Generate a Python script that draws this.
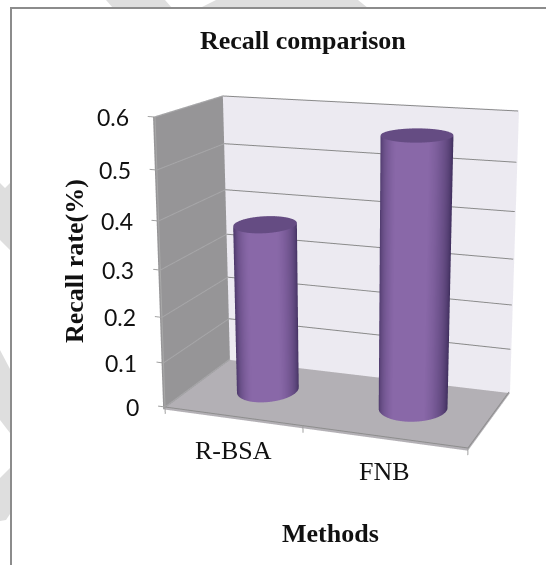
import numpy as np, plotly.graph_objects as go

categories = ["R-BSA", "FNB"]
recall_rate = [0.37, 0.57]
tick_values = [0, 0.1, 0.2, 0.3, 0.4, 0.5, 0.6]
tick_labels = ["0", "0.1", "0.2", "0.3", "0.4", "0.5", "0.6"]
title_text = "Recall comparison"
x_title = "Methods"
y_title = "Recall rate(%)"

W, H = 546, 565
X_MAX = len(categories)
Z_MAX = tick_values[-1]
X_RANGE, Y_RANGE, Z_RANGE = [-0.3, 2.3], [-0.3, 1.3], [-0.1, 0.7]
ASPECT = dict(x=1.2308, y=0.6896, z=1.1781)
EYE = dict(x=0.6385, y=-1.8809, z=0.4885)
CENTER = dict(x=-0.1484, y=-0.1249, z=-0.0481)
UP = dict(x=-0.0929, y=0.2527, z=0.9631)
CYLINDER_SHIFT = 0.03

# Where the eight corners of the chart box sit in the window. The reference's
# projection is flatter than the scene camera allows, so the box gets a small
# per-corner correction (the nearest point on each corner's sight line).
BOX_CORNER_PIXELS = {
    (0, 0, 0): (165, 407), (1, 0, 0): (468, 448), (0, 1, 0): (230, 359), (1, 1, 0): (509, 392),
    (0, 0, 1): (155, 117), (1, 0, 1): (478, 140), (0, 1, 1): (223, 96), (1, 1, 1): (518, 111),
}

_mid = np.array([sum(X_RANGE), sum(Y_RANGE), sum(Z_RANGE)]) / 2
_span = np.array([X_RANGE[1] - X_RANGE[0], Y_RANGE[1] - Y_RANGE[0], Z_RANGE[1] - Z_RANGE[0]])
_asp = np.array([ASPECT["x"], ASPECT["y"], ASPECT["z"]])
_eye = np.array([EYE["x"], EYE["y"], EYE["z"]])
_fw = np.array([CENTER["x"], CENTER["y"], CENTER["z"]]) - _eye
_fw /= np.linalg.norm(_fw)
_r = np.cross(_fw, [UP["x"], UP["y"], UP["z"]]); _r /= np.linalg.norm(_r)
_u = np.cross(_r, _fw)
_f = 1 / np.tan(np.pi / 8)

def corner_offset(px, py, p):
    a = (2 * px / W - 1) * W / H / _f
    b = (1 - 2 * py / H) / _f
    ray = _fw + a * _r + b * _u
    q = (np.array(p, float) - _mid) / _span * _asp
    t = (q - _eye) @ ray / (ray @ ray)
    return (_eye + t * ray - q) / _asp * _span

_off = {k: corner_offset(*v, (k[0] * X_MAX, k[1], k[2] * Z_MAX)) for k, v in BOX_CORNER_PIXELS.items()}

def warp(x, y, z):
    x, y, z = np.asarray(x, float), np.asarray(y, float), np.asarray(z, float)
    u, v, w = x / X_MAX, y, z / Z_MAX
    dx, dy, dz = 0 * x, 0 * x, 0 * x
    for (a, b, c), o in _off.items():
        k = (u if a else 1 - u) * (v if b else 1 - v) * (w if c else 1 - w)
        dx = dx + k * o[0]
        dy = dy + k * o[1]
        dz = dz + k * o[2]
    return x + dx, y + dy, z + dz

FLAT = dict(ambient=1, diffuse=0, specular=0, fresnel=0, roughness=1)

def quad(p, color):
    p = np.array(p, float)
    x, y, z = warp(p[:, 0], p[:, 1], p[:, 2])
    return go.Mesh3d(x=x, y=y, z=z, i=[0, 0], j=[1, 2], k=[2, 3], color=color,
                     flatshading=True, hoverinfo="skip", lighting=FLAT)

def polyline(pts, color, width=2):
    p = np.array(pts, float)
    x, y, z = warp(p[:, 0], p[:, 1], p[:, 2])
    return go.Scatter3d(x=x, y=y, z=z, mode="lines", hoverinfo="skip",
                        line=dict(color=color, width=width), showlegend=False)

def lerp(a, b, t):
    return tuple(a[i] + (b[i] - a[i]) * t for i in range(3))

def cylinder(cx, cy, h, rx=0.205, ry=0.24, n=96):
    sx, sy = _asp[0] / _span[0], _asp[1] / _span[1]
    ang = np.linspace(0, 2 * np.pi, n, endpoint=False)
    xs = cx + rx * np.cos(ang)
    ys = cy + ry * np.sin(ang)
    view = np.array([EYE["x"] - sx * (cx - 1), EYE["y"] - sy * (cy - 0.5)])
    view /= np.linalg.norm(view)
    nx = np.cos(ang) / (rx * sx)
    ny = np.sin(ang) / (ry * sy)
    facing = np.clip((nx * view[0] + ny * view[1]) / np.hypot(nx, ny), 0, 1)
    dark, light = (60, 44, 90), (137, 104, 168)
    cols = []
    for t in facing:
        r, g, b = lerp(dark, light, min(1, t ** 1.1 * 1.15))
        cols.append(f"rgb({int(r)},{int(g)},{int(b)})")
    I, J, K = [], [], []
    for a in range(n):
        b = (a + 1) % n
        I += [a, a]; J += [b, b + n]; K += [b + n, a + n]
    x0, y0, z0 = warp(xs, ys, np.zeros(n))
    x1, y1, z1 = warp(xs, ys, np.full(n, h))
    side = go.Mesh3d(x=np.r_[x0, x1], y=np.r_[y0, y1], z=np.r_[z0, z1],
                     i=I, j=J, k=K, vertexcolor=cols + cols, hoverinfo="skip", lighting=FLAT)
    xc, yc, zc = warp([cx], [cy], [h])
    top = go.Mesh3d(x=np.r_[xc, x1], y=np.r_[yc, y1], z=np.r_[zc, z1],
                    i=[0] * n, j=[a + 1 for a in range(n)], k=[(a + 1) % n + 1 for a in range(n)],
                    color="#654C83", flatshading=True, hoverinfo="skip", lighting=FLAT)
    return [side, top]

traces = [
    quad([(-0.015, 1.03, -0.006), (X_MAX, 1.03, -0.006), (X_MAX, 1.03, Z_MAX), (-0.015, 1.03, Z_MAX)], "#ECEAF1"),
    quad([(-0.015, 0, -0.006), (-0.015, 1.03, -0.006), (-0.015, 1.03, Z_MAX), (-0.015, 0, Z_MAX)], "#969597"),
    quad([(-0.015, 0, -0.006), (X_MAX, 0, -0.006), (X_MAX, 1.03, -0.006), (-0.015, 1.03, -0.006)], "#B3B0B5"),
]
for v in tick_values[1:]:
    traces.append(polyline([(0, 0, v), (0, 1, v)], "#A6A6A8"))
    traces.append(polyline([(0, 1, v), (X_MAX, 1, v)], "#8A8A8A"))
for v in tick_values:
    traces.append(polyline([(-0.055, 0, v), (0, 0, v)], "#A0A0A0"))
traces.append(polyline([(0, 0, 0), (0, 0, Z_MAX)], "#A8A8A8"))
traces.append(polyline([(0, 0, 0), (X_MAX, 0, 0), (X_MAX, 1, 0)], "#8E8E8E"))
traces.append(polyline([(0, 0, 0), (0, 1, 0)], "#A6A6A8"))
for c in range(X_MAX + 1):
    traces.append(polyline([(c, 0, 0), (c, 0, -0.016)], "#A0A0A0"))
for i, v in enumerate(recall_rate):
    traces += cylinder(i + 0.5 + CYLINDER_SHIFT, 0.5, v)

fig = go.Figure(traces)

serif = "Liberation Serif"
scene_notes = []
for v, t in zip(tick_values, tick_labels):
    x, y, z = warp(0.0, 0.0, v)
    scene_notes.append(dict(x=float(x), y=float(y), z=float(z), text=t, showarrow=False, xanchor="right",
                            yanchor="middle", xshift=-24, font=dict(family="Lato", size=23, color="#111111")))
for i, c in enumerate(categories):
    x, y, z = warp(i + 0.5, 0.0, 0.0)
    scene_notes.append(dict(x=float(x), y=float(y), z=float(z), text=c, showarrow=False, xanchor="center",
                            yanchor="middle", xshift=3, yshift=-35, font=dict(family=serif, size=26, color="#111111")))

def P(x, y):
    return x / W, 1 - y / H
def poly(pts):
    d = "M" + " L".join(f"{a/W:.5f},{1-b/H:.5f}" for a, b in pts) + " Z"
    return dict(type="path", xref="paper", yref="paper", path=d, fillcolor="#DEDEDE", line_width=0, layer="below")

shapes = [
    poly([(106, 0), (165, 0), (172, 8), (113, 8)]),
    poly([(216, 0), (358, 0), (368, 8), (200, 8)]),
    poly([(0, 183), (5, 188), (10, 183), (10, 250), (0, 240)]),
    poly([(0, 350), (10, 369), (10, 433), (0, 420)]),
    poly([(10, 468), (0, 478), (0, 521), (6, 520), (10, 514)]),
    dict(type="line", xref="paper", yref="paper", x0=11/W, x1=11/W, y0=0, y1=1-8/H, line=dict(color="#8C8C8C", width=2)),
    dict(type="line", xref="paper", yref="paper", x0=10/W, x1=1, y0=1-8/H, y1=1-8/H, line=dict(color="#8C8C8C", width=2)),
]

def note(text, x, y, size=26, angle=0):
    a, b = P(x, y)
    return dict(text=text, x=a, y=b, xref="paper", yref="paper", showarrow=False, textangle=angle,
                font=dict(family=serif, size=size, color="#111111"), xanchor="center", yanchor="middle")

axis = dict(visible=False, showspikes=False)
fig.update_layout(
    width=W, height=H, margin=dict(l=0, r=0, t=0, b=0), paper_bgcolor="white", showlegend=False,
    shapes=shapes,
    annotations=[note(f"<b>{title_text}</b>", 303, 40), note(f"<b>{x_title}</b>", 330, 533),
                 note(f"<b>{y_title}</b>", 74, 261, angle=-90)],
    scene=dict(domain=dict(x=[0, 1], y=[0, 1]), bgcolor="rgba(0,0,0,0)",
               xaxis=dict(range=X_RANGE, **axis), yaxis=dict(range=Y_RANGE, **axis), zaxis=dict(range=Z_RANGE, **axis),
               aspectmode="manual", aspectratio=ASPECT,
               camera=dict(eye=EYE, center=CENTER, up=UP, projection=dict(type="perspective")),
               annotations=scene_notes),
)
fig.write_html("out.html", config=dict(displayModeBar=False),
               post_script="document.body.style.margin='0';document.documentElement.style.overflow='hidden';")
